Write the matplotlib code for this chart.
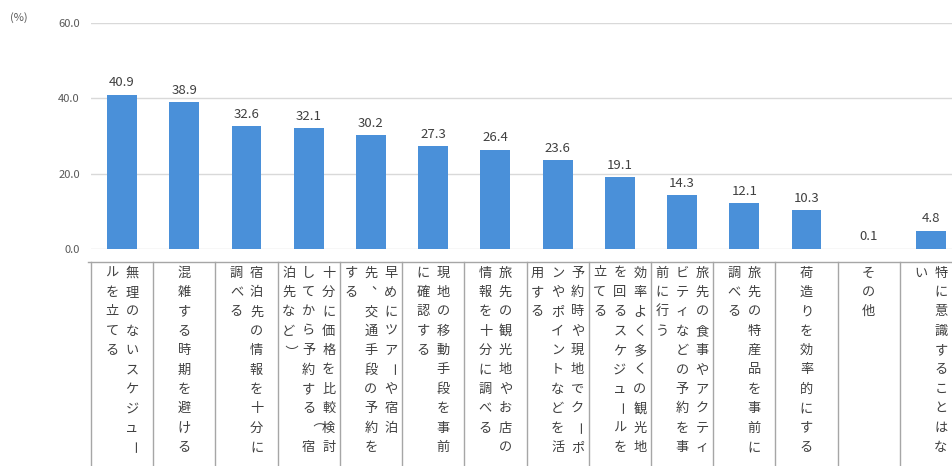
import matplotlib
matplotlib.use("Agg")
import matplotlib.pyplot as plt
import numpy as np

plt.rcParams['font.family'] = ['Noto Sans CJK JP', 'DejaVu Sans']

# survey items and share (%)
labels = [
    "無理のないスケジュールを立てる",
    "混雑する時期を避ける",
    "宿泊先の情報を十分に調べる",
    "十分に価格を比較検討してから予約する（宿泊先など）",
    "早めにツアーや宿泊先、交通手段の予約をする",
    "現地の移動手段を事前に確認する",
    "旅先の観光地やお店の情報を十分に調べる",
    "予約時や現地でクーポンやポイントなどを活用する",
    "効率よく多くの観光地を回るスケジュールを立てる",
    "旅先の食事やアクティビティなどの予約を事前に行う",
    "旅先の特産品を事前に調べる",
    "荷造りを効率的にする",
    "その他",
    "特に意識することはない",
]
values = [40.9, 38.9, 32.6, 32.1, 30.2, 27.3, 26.4, 23.6, 19.1, 14.3, 12.1, 10.3, 0.1, 4.8]
yticks = [0, 20, 40, 60]

W, H = 952, 466
BAR = '#4a90d9'
TXT = '#404040'
GRID = '#d9d9d9'
LINE = '#a6a6a6'


def wrap(s, n=10):
    # split into vertical columns, no column may start with 、 or ）
    cols = []
    i = 0
    while i < len(s):
        k = n
        if i + k < len(s) and s[i + k] in "、）":
            k -= 1
        cols.append(s[i:i + k])
        i += k
    return cols


fig = plt.figure(figsize=(W / 100, H / 100), dpi=100)
left = 91 / W
width = 871 / W
ax = fig.add_axes([left, (H - 249) / H, width, (249 - 23) / H])

x = np.arange(len(values))
bars = ax.bar(x, values, width=0.48, color=BAR, zorder=2)
for b, v in zip(bars, values):
    ax.annotate(f"{v:.1f}", (b.get_x() + b.get_width() / 2, v),
                xytext=(0, 4), textcoords='offset points',
                ha='center', va='bottom', fontsize=9.5, color=TXT)

ax.set_xlim(-0.5, len(values) - 0.5)
ax.set_ylim(0, 60)
ax.set_yticks(yticks)
ax.set_yticklabels([f"{t:.1f}" for t in yticks], fontsize=8, color='#595959')
ax.set_xticks([])
ax.tick_params(axis='y', length=0, pad=8)
ax.grid(axis='y', color=GRID, linewidth=1, zorder=0)
for s in ax.spines.values():
    s.set_visible(False)

fig.text(10 / W, 1 - 18 / H, "(%)", fontsize=8, color='#595959', va='center')

# label table below the axis
tax = fig.add_axes([left, 0, width, (H - 262) / H])
tax.set_xlim(-0.5, len(values) - 0.5)
tax.set_ylim(H - 262, 0)
tax.axis('off')
tax.plot([-0.55, len(values) - 0.5], [0, 0], color=LINE, lw=1, clip_on=False)
for b in np.arange(-0.5, len(values)):
    tax.plot([b, b], [0, H - 262], color=LINE, lw=1, clip_on=False)

colw = 20 / 62.2
for i, lab in enumerate(labels):
    cols = wrap(lab)
    n = len(cols)
    for j, col in enumerate(cols):
        cx = i + ((n - 1) / 2 - j) * colw
        for k, ch in enumerate(col):
            cy = 11 + k * 19.4
            rot = 0
            dx, dy = 0, 0
            if ch in "ー（）":
                rot = -90
            elif ch == "、":
                dx, dy = 0.12, -7
            tax.text(cx + dx, cy + dy, ch, ha='center', va='center',
                     rotation=rot, fontsize=9.5, color=TXT, clip_on=False)

fig.savefig("out.png", dpi=100)
